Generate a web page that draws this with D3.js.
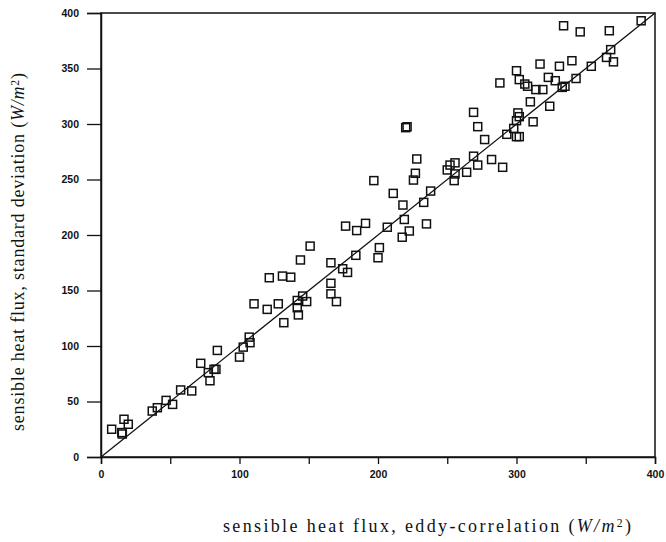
<!DOCTYPE html>
<html>
<head>
<meta charset="utf-8">
<script src="https://cdn.jsdelivr.net/npm/d3@7"></script>
<style>
  body { margin: 0; background: #fff; }
  .tick text { font-family: "Liberation Sans", Arial, sans-serif; font-weight: bold; font-size: 10.5px; }
  .title { font-family: "Liberation Serif", "Times New Roman", serif; fill: #111; }
</style>
</head>
<body>
<div id="chart"></div>
<script>
// constants for plot design
const FRAME_WIDTH = 666;
const FRAME_HEIGHT = 542;
const MARGINS = {left: 101, right: 11, top: 13, bottom: 85};
const VIS_WIDTH = FRAME_WIDTH - MARGINS.left - MARGINS.right;
const VIS_HEIGHT = FRAME_HEIGHT - MARGINS.top - MARGINS.bottom;

// sensible heat flux, eddy-correlation (W/m2)
const fluxEC = [390, 334, 346, 367, 368, 365, 370, 354, 340, 331, 317, 300, 302, 288, 306, 308,
  314, 319, 323, 328, 333, 335, 343, 310, 324, 269, 272, 277, 269, 282, 301, 300, 302, 298,
  293, 300, 302, 312, 264, 272, 290, 252, 255.6, 250, 255.6, 255, 220, 221, 228, 227, 225.6,
  197, 211, 218, 219, 238, 233, 235, 222.6, 217.5, 206.7, 191, 184.6, 176.6, 201, 200, 184,
  151, 144, 166, 174.5, 178, 121.5, 131, 137, 166, 166, 170, 145.6, 141.7, 148.5, 128, 141.7,
  110.5, 120, 132, 142.5, 107, 107.6, 102.7, 100, 84, 72, 77.5, 81.6, 83, 78.7, 65.5, 57.5,
  51.7, 47, 40.7, 37, 16.6, 19.7, 7.7, 15, 15.4];

// sensible heat flux, standard deviation (W/m2)
const fluxSD = [393, 388.5, 383, 384, 367, 360, 356, 352, 357, 352, 354, 348, 340, 337, 336, 334,
  331, 331, 342, 339, 333, 334, 341, 320, 316, 310.5, 297.6, 286, 271, 268, 310, 303, 306.6, 296,
  290.7, 288.6, 288.6, 302, 256.5, 263, 261, 263, 265, 258.6, 255, 249, 296.7, 297.5, 268.5, 255.6, 249.5,
  249, 237.5, 227, 214, 239.6, 229.4, 210, 203.6, 198, 207, 210.5, 204, 208, 188.6, 179.5, 181.7,
  190, 177.5, 175, 169.6, 166.3, 161.5, 163, 162, 156.5, 147, 140, 145, 141, 140, 138, 134.5,
  138, 133, 121, 128, 108, 103, 99, 90, 96, 84.4, 76, 79, 79, 68.7, 59.5, 60.4,
  47.4, 51, 44.4, 41.4, 34, 29.5, 25, 22, 20.7];

const points = fluxEC.map((d, i) => ({x: d, y: fluxSD[i]}));

const xTicks = [0, 50, 100, 150, 200, 250, 300, 350, 400];
const xLabels = [0, 100, 200, 300, 400];
const yTicks = [0, 50, 100, 150, 200, 250, 300, 350, 400];

const xScale = d3.scaleLinear().domain([0, 400]).range([0, VIS_WIDTH]);
const yScale = d3.scaleLinear().domain([0, 400]).range([VIS_HEIGHT, 0]);

const svg = d3.select("#chart")
  .append("svg")
    .attr("width", FRAME_WIDTH)
    .attr("height", FRAME_HEIGHT);

const g = svg.append("g")
  .attr("transform", "translate(" + MARGINS.left + "," + MARGINS.top + ")");

// box
g.append("rect")
  .attr("width", VIS_WIDTH)
  .attr("height", VIS_HEIGHT)
  .attr("fill", "none")
  .attr("stroke", "#111")
  .attr("stroke-width", 1.5);

// x axis
const xAxis = g.append("g")
  .attr("transform", "translate(0," + VIS_HEIGHT + ")")
  .call(d3.axisBottom(xScale).tickValues(xTicks).tickSize(7).tickPadding(7)
    .tickFormat(d => xLabels.includes(d) ? d : ""));

// y axis
const yAxis = g.append("g")
  .call(d3.axisLeft(yScale).tickValues(yTicks).tickSize(14).tickPadding(8));

[xAxis, yAxis].forEach(a => {
  a.select(".domain").attr("stroke", "#111").attr("stroke-width", 1.5);
  a.selectAll(".tick line").attr("stroke", "#111").attr("stroke-width", 1.3);
  a.selectAll(".tick text").attr("fill", "#111");
});

// 1:1 line
g.append("line")
  .attr("x1", xScale(0)).attr("y1", yScale(0))
  .attr("x2", xScale(400)).attr("y2", yScale(400))
  .attr("stroke", "#111")
  .attr("stroke-width", 1.3);

// squares
const S = 8;
g.selectAll(".pt")
  .data(points)
  .enter()
  .append("rect")
    .attr("class", "pt")
    .attr("x", d => xScale(d.x) - S / 2)
    .attr("y", d => yScale(d.y) - S / 2)
    .attr("width", S)
    .attr("height", S)
    .attr("fill", "none")
    .attr("stroke", "#111")
    .attr("stroke-width", 1.5);

// axis titles
function addTitle(sel, main) {
  sel.append("tspan").text(main + " (");
  sel.append("tspan").attr("font-style", "italic").text("W/m");
  sel.append("tspan").attr("font-size", "0.65em").attr("dy", "-0.45em").text("2");
  sel.append("tspan").attr("dy", "0.3em").text(")");
}

const xTitle = svg.append("text")
  .attr("class", "title")
  .attr("x", 427)
  .attr("y", 532)
  .attr("text-anchor", "middle")
  .attr("font-size", "18px")
  .attr("textLength", 408)
  .attr("lengthAdjust", "spacing");
addTitle(xTitle, "sensible heat flux, eddy-correlation");

const yTitle = svg.append("text")
  .attr("class", "title")
  .attr("transform", "translate(24,252) rotate(-90)")
  .attr("text-anchor", "middle")
  .attr("font-size", "18px")
  .attr("textLength", 358)
  .attr("lengthAdjust", "spacing");
addTitle(yTitle, "sensible heat flux, standard deviation");
</script>
</body>
</html>
